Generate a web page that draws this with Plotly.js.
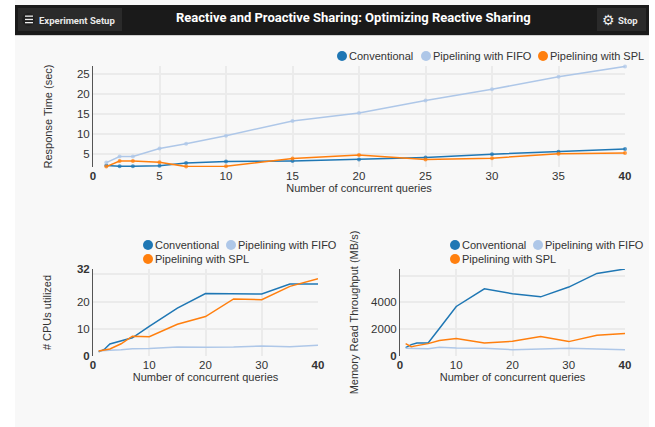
<!DOCTYPE html>
<html><head><meta charset="utf-8">
<script src="https://cdn.plot.ly/plotly-3.0.1.min.js"></script>
<style>html,body{margin:0;padding:0;background:#fff}</style></head>
<body><div id="chart" style="width:655px;height:427px"></div>
<script>
const queries = [1,2,3,5,7,10,15,20,25,30,35,40];
const seriesNames = ["Conventional","Pipelining with FIFO","Pipelining with SPL"];
const seriesColors = ["#1f77b4","#aec7e8","#ff7f0e"];
const respConventional = [2.2,2.0,2.0,2.1,2.8,3.2,3.3,3.7,4.2,5.0,5.6,6.3];
const respFifo = [2.9,4.4,4.4,6.4,7.6,9.6,13.3,15.3,18.4,21.2,24.3,26.9];
const respSpl = [1.9,3.3,3.3,3.0,1.9,2.0,3.9,4.8,3.7,4.0,5.1,5.3];
const cpuConventional = [1.5,2.4,4.4,5.5,6.7,10.9,17.6,23.0,22.9,22.8,26.5,26.5];
const cpuFifo = [1.8,2.0,2.1,2.3,2.7,2.8,3.3,3.2,3.3,3.7,3.4,4.0];
const cpuSpl = [1.8,2.1,2.6,4.5,7.3,7.1,11.7,14.5,21.0,20.7,25.6,28.4];
const memConventional = [620,850,970,970,2050,3700,5020,4650,4420,5150,6170,6500];
const memFifo = [570,570,550,550,650,600,575,475,525,575,525,475];
const memSpl = [925,700,775,925,1150,1300,975,1100,1450,1075,1550,1675];

const W=655,H=427;
const fx=p=>p/W, fy=p=>1-p/H;
const TXT="#333", FONT="Liberation Sans, Arial, sans-serif";
const traces=[];
function addSeries(vals,xa,ya,legend,markers){
  vals.forEach((v,i)=>traces.push({x:queries,y:v,type:"scatter",mode:markers?"lines+markers":"lines",
    xaxis:xa,yaxis:ya,name:seriesNames[i],showlegend:false,hoverinfo:"skip",cliponaxis:false,
    line:{color:seriesColors[i],width:1.5},marker:{color:seriesColors[i],size:4,opacity:.75}}));
  vals.forEach((v,i)=>traces.push({x:[null],y:[null],type:"scatter",mode:"markers",xaxis:xa,yaxis:ya,
    name:seriesNames[i],legend:legend,showlegend:true,marker:{color:seriesColors[i],size:10}}));
}
addSeries([respConventional,respFifo,respSpl],"x","y","legend",true);
addSeries([cpuConventional,cpuFifo,cpuSpl],"x2","y2","legend2",false);
addSeries([memConventional,memFifo,memSpl],"x3","y3","legend3",false);

const gridC="#ebebeb";
function xAxis(vals,labels,l,r,anchor){return {domain:[fx(l),fx(r)],range:[0,40],anchor:anchor,
  tickvals:vals,ticktext:labels,ticks:"",showgrid:true,gridcolor:gridC,gridwidth:1.5,zeroline:false,showline:false,
  tickfont:{family:FONT,size:11.5,color:TXT},
  title:{text:"Number of concurrent queries",font:{family:FONT,size:11,color:TXT},standoff:3}};}
function yAxis(range,vals,labels,grid,t,b,anchor,title,off){return {domain:[fy(b),fy(t)],range:range,anchor:anchor,
  tickvals:vals,ticktext:labels,ticks:"",showgrid:false,zeroline:false,showline:true,linecolor:"#555",linewidth:1,
  minor:{tickvals:grid,showgrid:true,gridcolor:gridC,gridwidth:1.5,ticks:""},
  tickfont:{family:FONT,size:11.5,color:TXT},
  title:{text:title,font:{family:FONT,size:11,color:TXT},standoff:off}};}
const rect=(a,b,c,d,col)=>({type:"rect",xref:"paper",yref:"paper",x0:fx(a),x1:fx(b),y0:fy(d),y1:fy(c),fillcolor:col,line:{width:0},layer:"below"});
const note=(text,x,y,size,fam,col)=>({text:text,xref:"paper",yref:"paper",x:fx(x),y:fy(y),xanchor:"center",yanchor:"middle",showarrow:false,font:{family:fam,size:size,color:col}});
const legendCfg=(x,y)=>({orientation:"h",x:fx(x),y:fy(y),xanchor:"left",yanchor:"top",bgcolor:"rgba(0,0,0,0)",
  font:{family:FONT,size:11,color:TXT},itemclick:false,itemdoubleclick:false});

const layout={width:W,height:H,margin:{l:0,r:0,t:0,b:0},paper_bgcolor:"#fff",plot_bgcolor:"rgba(0,0,0,0)",showlegend:true,
  xaxis:xAxis([0,5,10,15,20,25,30,35,40],["<b>0</b>","5","10","15","20","25","30","35","<b>40</b>"],93,625,"y"),
  yaxis:yAxis([1.8,27],[5,10,15,20,25],["5","10","15","20","25"],[5,10,15,20,25],66,167,"x","Response Time (sec)",22),
  xaxis2:xAxis([0,10,20,30,40],["<b>0</b>","10","20","30","<b>40</b>"],93,318,"y2"),
  yaxis2:yAxis([0,32],[0,10,20,32],["<b>0</b>","10","20","<b>32</b>"],[0,10,20,30],269,356,"x2","# CPUs utilized",23),
  xaxis3:xAxis([0,10,20,30,40],["<b>0</b>","10","20","30","<b>40</b>"],400,625,"y3"),
  yaxis3:yAxis([0,6500],[0,2000,4000],["<b>0</b>","2000","4000"],[0,2000,4000,6000],269,356,"x3","Memory Read Throughput (MB/s)",10),
  legend:legendCfg(240,40),
  legend2:legendCfg(120,230),
  legend3:legendCfg(240,230),
  shapes:[rect(15,649,0,427,"#f8f8f8"),rect(15,649,5,35,"#1a1a1a"),rect(15,649,35,36,"#cfcfcf"),rect(18,122,8,31,"#2a2a2a"),rect(597,646,8,31,"#2a2a2a"),
    {type:"circle",xref:"paper",yref:"paper",x0:fx(22),x1:fx(35),y0:fy(26),y1:fy(13),fillcolor:"#202020",line:{width:0},layer:"below"},
    rect(25,33,15.5,16.8,"#eee"),rect(25,33,18.8,20.1,"#eee"),rect(25,33,22,23.3,"#eee")],
  annotations:[
    note("<b>Experiment Setup</b>",77,20,9.5,"Roboto","#e8e8e8"),
    note("<b>Reactive and Proactive Sharing: Optimizing Reactive Sharing</b>",354,17,13,"Roboto","#fff"),
    note("⚙",608,20,14,"DejaVu Sans","#eee"),
    note("<b>Stop</b>",628,20,9.5,"Roboto","#e8e8e8")]
};
// legend entry anchor points, one list per legend: the reference packs the swatch right next to its label
const legendSpots={legend:[[342,56],[426,56],[543,56]],legend2:[[148,245],[231,245],[148,259]],legend3:[[455,245],[538,245],[455,259]]};
const labelGap=7;
function packLegends(){
  Object.keys(legendSpots).forEach(id=>{
    document.querySelectorAll('#chart g.'+id).forEach(box=>{
      box.querySelectorAll('.scrollbox').forEach(s=>s.removeAttribute('clip-path'));
      box.querySelectorAll('.traces').forEach((g,i)=>{
        const spot=legendSpots[id][i]; if(!spot) return;
        const t=g.querySelector('text');
        if(!t) return;
        const pt=[...g.querySelectorAll('path')].find(p=>p.getBoundingClientRect().width>0);
        const gb=g.getBoundingClientRect();
        const b=pt?pt.getBoundingClientRect():{left:gb.left+15,width:10,top:gb.top,height:gb.height};
        const m=/translate\(([-\d.]+)[, ]+([-\d.]+)\)/.exec(g.getAttribute('transform')||'')||[0,0,0];
        const cx=b.left+b.width/2, cy=b.top+b.height/2;
        const tb=t.getBoundingClientRect();
        t.setAttribute('x',+t.getAttribute('x')-(tb.left-cx)+labelGap);
        g.setAttribute('transform','translate('+(+m[1]+spot[0]-cx)+','+(+m[2]+spot[1]-cy)+')');
      });
    });
  });
}
Plotly.newPlot("chart",traces,layout,{displayModeBar:false}).then(packLegends);
</script></body></html>
